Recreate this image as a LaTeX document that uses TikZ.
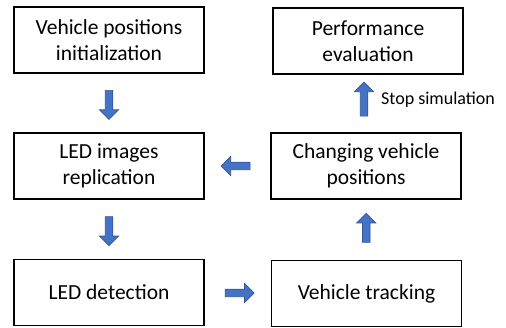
\documentclass[tikz,border=0pt]{standalone}
\usepackage{fontspec}
\setmainfont{Carlito}
\usetikzlibrary{shapes.arrows,calc}
\definecolor{arrowfill}{HTML}{4472C4}
\definecolor{arrowline}{HTML}{2F5597}
\tikzset{
  stepbox/.style={draw=black, line width=1.3pt, minimum width=190pt, minimum height=66pt,
    inner sep=0pt, align=center, font=\fontsize{21.5}{26}\selectfont},
  blockarrow/.style={single arrow, fill=arrowfill, draw=arrowline, line width=0.7pt,
    inner sep=3.4pt, single arrow head extend=5.8pt, minimum height=29pt},
  note/.style={font=\fontsize{18}{22}\selectfont, inner sep=0pt, anchor=west}
}
\begin{document}
\begin{tikzpicture}[x=1pt, y=-1pt]
\useasboundingbox (0,0) rectangle (506,328);
% process steps
\node[stepbox] (init)   at (109,40)    {Vehicle positions\\initialization};
\node[stepbox] (perf)   at (368,41)    {Performance\\evaluation};
\node[stepbox] (repl)   at (109,166)   {LED images\\replication};
\node[stepbox] (change) at (366,166)   {Changing vehicle\\positions};
\node[stepbox] (detect) at (109,292.5) {LED detection};
\node[stepbox] (track)  at (366.5,293.5) {Vehicle tracking};
% block arrows between the steps
\node[blockarrow, shape border rotate=270] (a1) at ($(init.south)!0.5!(repl.north)$) {};
\node[blockarrow, shape border rotate=270] (a2) at ($(repl.south)!0.5!(detect.north)$) {};
\node[blockarrow] (a3) at ($(detect.east)!0.5!(track.west)$) {};
\node[blockarrow, shape border rotate=90] (a4) at ($(track.north)!0.5!(change.south)$) {};
\node[blockarrow, shape border rotate=180] (a5) at ($(change.west)!0.5!(repl.east)$) {};
\node[blockarrow, shape border rotate=90, minimum height=34pt] (a6) at (364,101) {};
\node[note] (stop) at (381,100) {Stop simulation};
\end{tikzpicture}
\end{document}
